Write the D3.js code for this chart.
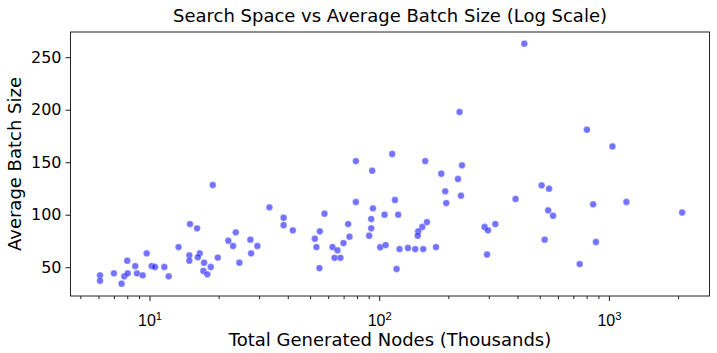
<!DOCTYPE html>
<html>
<head>
<meta charset="utf-8">
<script src="https://cdn.jsdelivr.net/npm/d3@7"></script>
<style>
  html, body { margin: 0; padding: 0; background: #fff; }
  svg { display: block; font-family: "DejaVu Sans", sans-serif; }
</style>
</head>
<body>
<svg id="chart" width="717" height="353"></svg>
<script>
const titleText = "Search Space vs Average Batch Size (Log Scale)";
const xLabel = "Total Generated Nodes (Thousands)";
const yLabel = "Average Batch Size";

const nodesK = [6.09,6.09,7.00,7.56,7.77,8.00,8.04,8.67,8.82,9.34,9.72,10.22,10.57,11.60,12.12,13.38,
18.86,15.01,16.11,23.75,33.27,38.36,38.36,22.04,23.11,27.50,29.49,27.69,24.62,19.83,16.55,16.22,14.91,14.91,17.28,18.48,17.16,17.86,
42.07,57.77,79.15,93.2,79.15,93.9,92.3,105.5,55.15,52.45,53.3,73.26,74.23,69.9,62.6,65.8,63.9,67.8,54.95,92.3,90.4,101.0,106.7,
113.9,158.6,229.3,186.3,220.3,117.1,193.9,195.8,227.0,121.0,161.4,154.0,147.9,147.1,122.6,133.4,143.5,155.5,176.7,119.0,287.6,297.6,320.2,294.6,223.8,428.3,
801.9,509.6,548.8,392.3,853.5,543.9,571.3,525.2,878.0,746.1,1036,1192,2084];

const batchSize = [42.3,37.1,44.2,34.3,41.3,56.2,44.2,51.1,44.2,42.3,63.2,51.1,50.2,50.2,41.3,69.2,
128.3,91.1,87.0,83.2,107.0,97.1,90.0,75.2,70.2,76.2,70.2,63.2,54.3,59.2,63.2,59.4,61.3,56.2,54.3,50.2,46.4,43.2,
85.1,101.0,151.1,141.9,112.1,106.1,95.9,100.0,84.2,77.1,69.2,91.1,79.0,73.0,69.2,66.1,59.0,59.0,49.2,87.0,80.0,69.0,71.1,
157.8,151.1,147.0,139.0,134.0,114.0,122.3,111.1,118.1,100.0,93.0,88.3,84.2,80.0,67.3,68.3,67.3,67.3,69.2,48.3,88.3,85.1,91.1,62.1,197.8,262.9,
181.0,128.0,124.8,115.0,109.9,104.2,99.0,76.2,74.0,53.0,165.0,112.1,102.1];

const xMajorTicks = [10, 100, 1000];
const xMinorTicks = [5,6,7,8,9,20,30,40,50,60,70,80,90,200,300,400,500,600,700,800,900,2000];
const yTicks = [50, 100, 150, 200, 250];

const plot = { left: 70.5, right: 709.5, top: 32, bottom: 296 };
const svg = d3.select("#chart");

const x = d3.scaleLog().domain([4.53, 2741]).range([plot.left, plot.right]);
const y = d3.scaleLinear().domain([22.6, 274]).range([plot.bottom, plot.top]);

// points
const pts = nodesK.map((v, i) => ({ x: v, y: batchSize[i] }));
svg.append("g").selectAll("circle").data(pts).join("circle")
  .attr("cx", d => x(d.x))
  .attr("cy", d => y(d.y))
  .attr("r", 3.4)
  .attr("fill", "rgb(0,0,255)")
  .attr("fill-opacity", 0.55)
  .attr("stroke", "#fff")
  .attr("stroke-width", 0.6)
  .attr("stroke-opacity", 0.6);

// x axis
const gx = svg.append("g").attr("transform", `translate(0,${plot.bottom})`)
  .call(d3.axisBottom(x).tickValues(xMajorTicks).tickSize(5).tickPadding(5).tickFormat(""));
gx.select(".domain").remove();
gx.selectAll(".tick text").remove();
gx.selectAll(".tick").each(function(d) {
  const t = d3.select(this).append("text")
    .attr("y", 30).attr("fill", "#000").attr("font-size", 16).attr("text-anchor", "middle");
  t.append("tspan").text("10");
  t.append("tspan").attr("dy", -6.5).attr("font-size", 11.2).text(String(Math.round(Math.log10(d))));
});
const gxm = svg.append("g").attr("transform", `translate(0,${plot.bottom})`)
  .call(d3.axisBottom(x).tickValues(xMinorTicks).tickSize(3).tickFormat(""));
gxm.select(".domain").remove();

// y axis
const gy = svg.append("g").attr("transform", `translate(${plot.left},0)`)
  .call(d3.axisLeft(y).tickValues(yTicks).tickSize(5).tickPadding(4));
gy.select(".domain").remove();
gy.selectAll(".tick text").attr("font-size", 16).attr("fill", "#000").attr("font-family", "DejaVu Sans");

svg.selectAll(".tick line").attr("stroke", "#000").attr("stroke-width", 0.9);

// frame
svg.append("rect")
  .attr("x", plot.left).attr("y", plot.top)
  .attr("width", plot.right - plot.left).attr("height", plot.bottom - plot.top)
  .attr("fill", "none").attr("stroke", "#222").attr("stroke-width", 1);

// title & labels
svg.append("text").attr("x", (plot.left + plot.right) / 2).attr("y", 22)
  .attr("text-anchor", "middle").attr("font-size", 18).attr("fill", "#000").text(titleText);
svg.append("text").attr("x", (plot.left + plot.right) / 2).attr("y", 346)
  .attr("text-anchor", "middle").attr("font-size", 18).attr("fill", "#000").text(xLabel);
svg.append("text").attr("transform", `translate(21,${(plot.top + plot.bottom) / 2}) rotate(-90)`)
  .attr("text-anchor", "middle").attr("font-size", 18).attr("fill", "#000").text(yLabel);
</script>
</body>
</html>
